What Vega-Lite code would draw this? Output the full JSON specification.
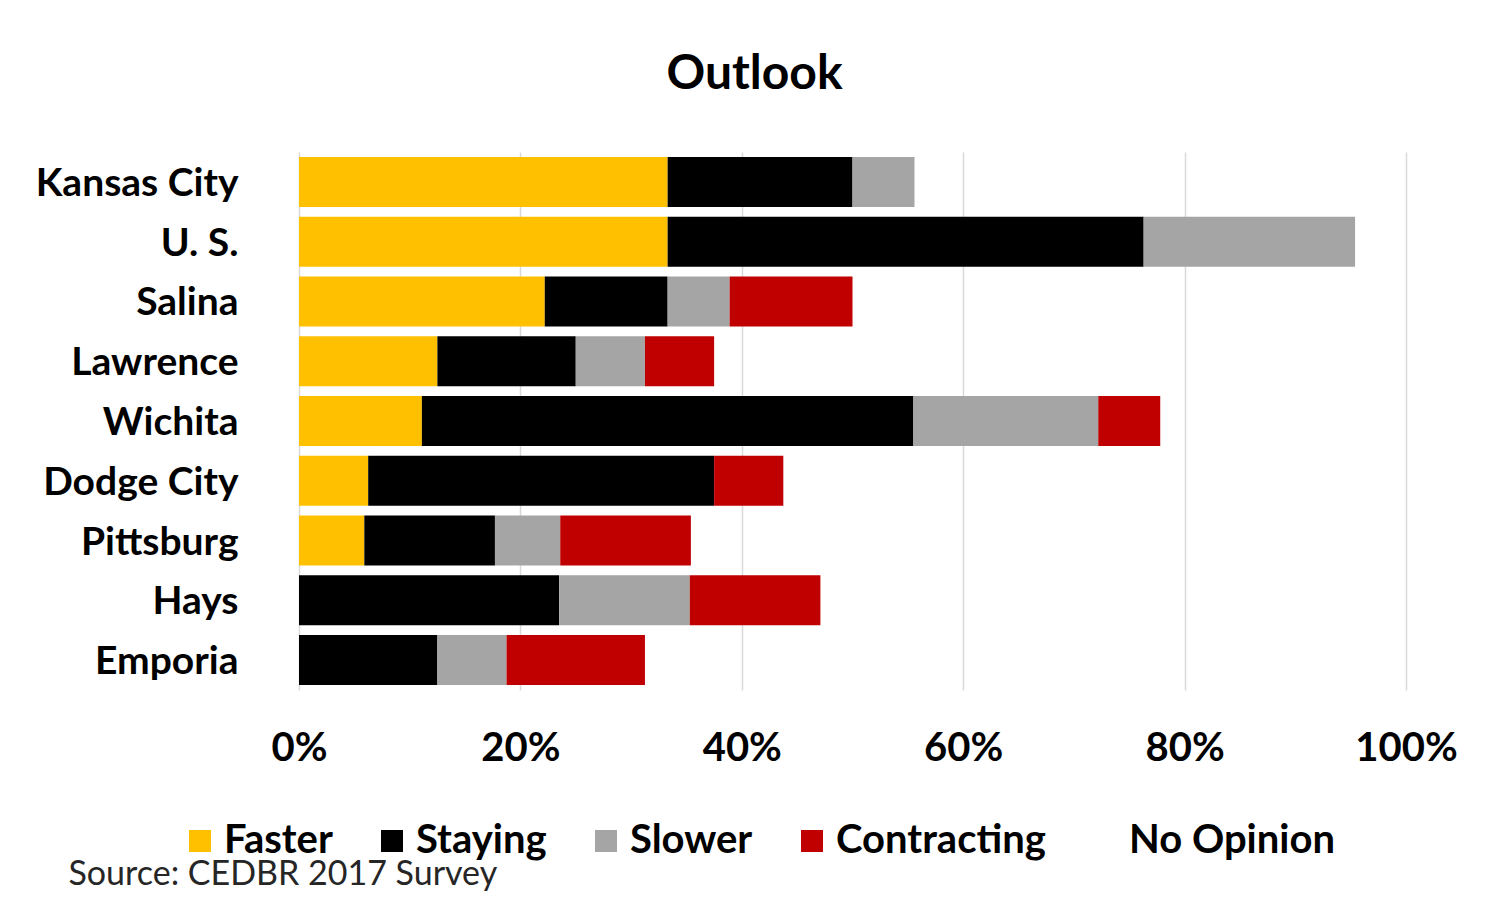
{
  "$schema": "https://vega.github.io/schema/vega-lite/v6.json",
  "autosize": "none",
  "width": 1107,
  "height": 538,
  "padding": {"left": 299, "top": 152, "right": 81, "bottom": 210},
  "background": "white",
  "title": {
    "text": "Outlook",
    "font": "Lato",
    "fontSize": 48,
    "fontWeight": "bold",
    "color": "#000000",
    "anchor": "middle",
    "dx": -98,
    "baseline": "alphabetic",
    "offset": 15
  },
  "data": {
    "values": [
      {"city": "Kansas City", "outlook": "Faster", "share": 0.333},
      {"city": "Kansas City", "outlook": "Staying", "share": 0.167},
      {"city": "Kansas City", "outlook": "Slower", "share": 0.056},
      {"city": "Kansas City", "outlook": "Contracting", "share": 0.0},
      {"city": "Kansas City", "outlook": "No Opinion", "share": 0.444},
      {"city": "U. S.", "outlook": "Faster", "share": 0.333},
      {"city": "U. S.", "outlook": "Staying", "share": 0.43},
      {"city": "U. S.", "outlook": "Slower", "share": 0.191},
      {"city": "U. S.", "outlook": "Contracting", "share": 0.0},
      {"city": "U. S.", "outlook": "No Opinion", "share": 0.046},
      {"city": "Salina", "outlook": "Faster", "share": 0.222},
      {"city": "Salina", "outlook": "Staying", "share": 0.111},
      {"city": "Salina", "outlook": "Slower", "share": 0.056},
      {"city": "Salina", "outlook": "Contracting", "share": 0.111},
      {"city": "Salina", "outlook": "No Opinion", "share": 0.5},
      {"city": "Lawrence", "outlook": "Faster", "share": 0.125},
      {"city": "Lawrence", "outlook": "Staying", "share": 0.125},
      {"city": "Lawrence", "outlook": "Slower", "share": 0.0625},
      {"city": "Lawrence", "outlook": "Contracting", "share": 0.0625},
      {"city": "Lawrence", "outlook": "No Opinion", "share": 0.625},
      {"city": "Wichita", "outlook": "Faster", "share": 0.111},
      {"city": "Wichita", "outlook": "Staying", "share": 0.444},
      {"city": "Wichita", "outlook": "Slower", "share": 0.167},
      {"city": "Wichita", "outlook": "Contracting", "share": 0.056},
      {"city": "Wichita", "outlook": "No Opinion", "share": 0.222},
      {"city": "Dodge City", "outlook": "Faster", "share": 0.0625},
      {"city": "Dodge City", "outlook": "Staying", "share": 0.3125},
      {"city": "Dodge City", "outlook": "Slower", "share": 0.0},
      {"city": "Dodge City", "outlook": "Contracting", "share": 0.0625},
      {"city": "Dodge City", "outlook": "No Opinion", "share": 0.5625},
      {"city": "Pittsburg", "outlook": "Faster", "share": 0.059},
      {"city": "Pittsburg", "outlook": "Staying", "share": 0.118},
      {"city": "Pittsburg", "outlook": "Slower", "share": 0.059},
      {"city": "Pittsburg", "outlook": "Contracting", "share": 0.118},
      {"city": "Pittsburg", "outlook": "No Opinion", "share": 0.646},
      {"city": "Hays", "outlook": "Faster", "share": 0.0},
      {"city": "Hays", "outlook": "Staying", "share": 0.235},
      {"city": "Hays", "outlook": "Slower", "share": 0.118},
      {"city": "Hays", "outlook": "Contracting", "share": 0.118},
      {"city": "Hays", "outlook": "No Opinion", "share": 0.529},
      {"city": "Emporia", "outlook": "Faster", "share": 0.0},
      {"city": "Emporia", "outlook": "Staying", "share": 0.125},
      {"city": "Emporia", "outlook": "Slower", "share": 0.0625},
      {"city": "Emporia", "outlook": "Contracting", "share": 0.125},
      {"city": "Emporia", "outlook": "No Opinion", "share": 0.6875}
    ]
  },
  "transform": [
    {"calculate": "indexof(['Faster','Staying','Slower','Contracting','No Opinion'], datum.outlook)", "as": "stackOrder"}
  ],
  "mark": {"type": "bar", "strokeWidth": 0},
  "encoding": {
    "y": {
      "field": "city",
      "type": "nominal",
      "sort": ["Kansas City", "U. S.", "Salina", "Lawrence", "Wichita", "Dodge City", "Pittsburg", "Hays", "Emporia"],
      "scale": {"paddingInner": 0.164, "paddingOuter": 0.082},
      "axis": {
        "title": null,
        "domain": false,
        "ticks": false,
        "labelFont": "Lato",
        "labelFontSize": 39,
        "labelFontWeight": "bold",
        "labelColor": "#000000",
        "labelPadding": 61,
        "labelLimit": 300,
        "labelOffset": 2
      }
    },
    "x": {
      "field": "share",
      "type": "quantitative",
      "stack": "zero",
      "scale": {"domain": [0, 1], "nice": false},
      "axis": {
        "title": "Source: CEDBR 2017 Survey",
        "titleFont": "Lato",
        "titleFontSize": 34,
        "titleFontWeight": "normal",
        "titleColor": "#262626",
        "titleAlign": "left",
        "titleAnchor": "start",
        "titleBaseline": "middle",
        "titleX": -231,
        "titleY": 184,
        "values": [0, 0.2, 0.4, 0.6, 0.8, 1],
        "format": ".0%",
        "domain": false,
        "ticks": false,
        "grid": true,
        "gridColor": "#d9d9d9",
        "gridWidth": 1.5,
        "labelFont": "Lato",
        "labelFontSize": 40,
        "labelFontWeight": "bold",
        "labelColor": "#000000",
        "labelPadding": 38,
        "labelFlush": false
      }
    },
    "color": {
      "field": "outlook",
      "type": "nominal",
      "sort": ["Faster", "Staying", "Slower", "Contracting", "No Opinion"],
      "scale": {
        "domain": ["Faster", "Staying", "Slower", "Contracting", "No Opinion"],
        "range": ["#FFC000", "#000000", "#A5A5A5", "#C00000", "transparent"]
      },
      "legend": {
        "title": null,
        "orient": "none",
        "direction": "horizontal",
        "legendX": -119,
        "legendY": 669,
        "padding": 0,
        "symbolType": "square",
        "symbolSize": 484,
        "symbolStrokeWidth": 0,
        "labelFont": "Lato",
        "labelFontSize": 40,
        "labelFontWeight": "bold",
        "labelColor": "#000000",
        "labelOffset": 4,
        "columnPadding": 39,
        "labelLimit": 400
      }
    },
    "order": {"field": "stackOrder", "type": "quantitative"}
  },
  "config": {"view": {"stroke": null}}
}
